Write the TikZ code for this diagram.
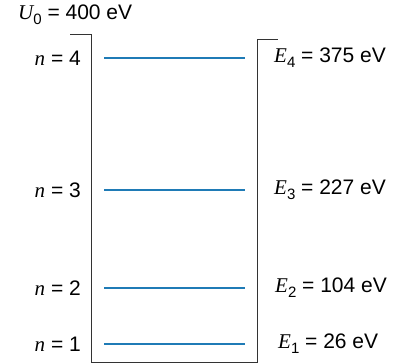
\documentclass[tikz,border=0pt]{standalone}
\usepackage{fontspec}
\setmainfont{Liberation Sans}
\newfontfamily\varfont[ItalicFont=* Italic]{Liberation Serif}
\usetikzlibrary{positioning}
\definecolor{clevel}{HTML}{1F7BB6}
\definecolor{cwall}{HTML}{333333}
\newcommand{\qvar}[1]{{\varfont\itshape #1}}
\newcommand{\qsub}[1]{\raisebox{-0.45ex}{\fontsize{15}{17}\selectfont #1}}

\begin{document}
\begin{tikzpicture}[x=1pt, y=-1pt, every node/.style={font=\fontsize{21}{24}\selectfont, inner sep=0pt},
    wall/.style={draw=cwall, line width=1pt},
    level/.style={draw=clevel, line width=1.6pt}]
    \useasboundingbox (0,0) rectangle (406,363);
    % well walls
    \coordinate (tl) at (70,35);
    \coordinate (tr) at (278,40);
    \draw[wall] (tl) -- (91,35) -- (91,362) -- (257,362) -- (257,40) -- (tr);
    \node[anchor=west] (u0) at (18,15) {\qvar{U}\qsub{0} = 400 eV};
    % energy levels
    \foreach \n/\y/\e/\x in {4/58/375/274, 3/190/227/274, 2/288/104/275, 1/344/26/278} {
      \coordinate (a\n) at (104,\y);
      \coordinate (b\n) at (245,\y);
      \draw[level] (a\n) -- (b\n);
      \node[anchor=east] (n\n) at (81,\y) {\qvar{n} = \n};
      \node[anchor=west] (e\n) at (\x,\y) {\qvar{E}\qsub{\n} = \e\ eV};
    }
  \end{tikzpicture}
\end{document}
